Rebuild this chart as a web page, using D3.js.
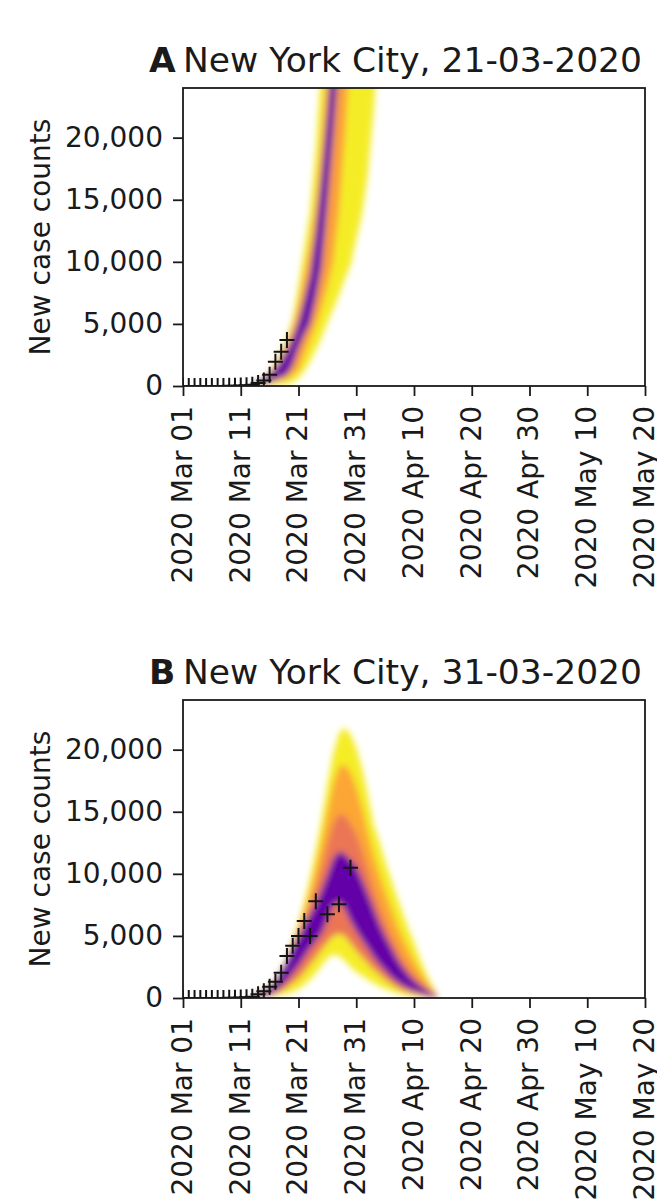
<!DOCTYPE html>
<html>
<head>
<meta charset="utf-8">
<script src="https://cdn.jsdelivr.net/npm/d3@7"></script>
<style>
  body { margin: 0; background: #fff; }
  text { font-family: "DejaVu Sans", sans-serif; fill: #1a1a1a; }
</style>
</head>
<body>
<svg id="chart" width="657" height="1203"></svg>
<script>
// ---- shared axis settings ----
const startDate = "2020-03-01";
const endDate = "2020-05-20";
const xTickDates = ["2020-03-01", "2020-03-11", "2020-03-21", "2020-03-31",
  "2020-04-10", "2020-04-20", "2020-04-30", "2020-05-10", "2020-05-20"];
const yTicks = [0, 5000, 10000, 15000, 20000];
const yMax = 24000;
const yLabel = "New case counts";

// ---- panel A: forecast made on 21-03-2020 ----
const titleA = "New York City, 21-03-2020";
const obsDayA = [0, 1, 2, 3, 4, 5, 6, 7, 8, 9, 10, 11, 12, 13, 14, 15, 16, 17, 18];
const obsA = [0, 0, 1, 1, 2, 3, 5, 8, 14, 20, 35, 55, 95, 250, 450, 900, 1950, 2750, 3700];
// forecast quantile envelopes (days since 1 March); null = beyond the plotted range
const fanDayA = [12, 13, 14, 15, 16, 17, 18, 19, 20, 21, 22, 23, 24, 25, 26, 27, 28, 29, 30, 31, 32, 33, 34];
const outerHiA  = [250, 450, 700, 1200, 1900, 2800, 3900, 5400, 8000, 11000, 14000, 19000, 26000, null, null, null, null, null, null, null, null, null, null];
const orangeHiA = [220, 400, 650, 1100, 1700, 2500, 3500, 4800, 6600, 9000, 11500, 15000, 20000, 26000, null, null, null, null, null, null, null, null, null];
const purpleHiA = [200, 350, 600, 950, 1400, 2050, 2900, 3900, 5200, 7000, 9000, 12500, 17000, 22000, 28000, null, null, null, null, null, null, null, null];
const purpleLoA = [60, 100, 200, 350, 500, 700, 900, 1700, 3000, 4100, 5000, 7000, 9500, 14500, 20000, 26000, null, null, null, null, null, null, null];
const orangeLoA = [40, 70, 130, 220, 330, 450, 550, 900, 1300, 2500, 3700, 4900, 6300, 8000, 10000, 14000, 20000, 27000, null, null, null, null, null];
const outerLoA  = [10, 20, 40, 70, 100, 130, 180, 280, 650, 1200, 2000, 2900, 3900, 5100, 6200, 7300, 8600, 9700, 11800, 13800, 17000, 22000, 28000];

// ---- panel B: forecast made on 31-03-2020 ----
const titleB = "New York City, 31-03-2020";
const obsDayB = [0, 1, 2, 3, 4, 5, 6, 7, 8, 9, 10, 11, 12, 13, 14, 15, 16, 17, 18, 19, 20, 21, 22, 23, 25, 27, 29];
const obsB = [0, 0, 1, 1, 2, 3, 5, 8, 14, 20, 35, 55, 95, 300, 550, 900, 1300, 2040, 3390, 4200, 5000, 6200, 5000, 7800, 6750, 7550, 10500];
const fanDayB = [12, 13, 14, 15, 16, 17, 18, 19, 20, 21, 22, 23, 24, 25, 26, 27, 28, 29, 30, 31, 32, 33, 34, 35, 36, 37, 38, 39, 40, 41, 42, 43, 44];
const outerHiB  = [250, 450, 700, 1000, 1500, 2300, 3400, 4700, 6000, 7700, 9600, 11900, 14300, 17200, 19700, 21300, 21800, 21200, 20200, 18500, 16400, 14000, 12600, 11000, 9600, 8200, 6900, 5600, 4500, 3200, 2100, 1100, 300];
const orangeHiB = [220, 400, 620, 900, 1400, 2200, 3200, 4400, 5600, 7000, 8600, 10500, 12600, 15000, 17200, 18600, 18800, 18200, 17000, 15300, 13400, 11500, 10000, 8600, 7300, 6000, 4900, 3900, 3000, 2200, 1500, 800, 250];
const pinkHiB   = [200, 370, 580, 850, 1350, 2150, 3100, 4250, 5200, 6400, 7500, 8900, 10500, 12300, 14000, 14800, 14700, 14000, 13200, 11800, 10300, 8800, 7400, 6200, 5100, 4100, 3200, 2500, 1900, 1400, 950, 550, 200];
const purpleHiB = [200, 350, 550, 800, 1300, 2100, 3000, 4100, 4900, 5900, 6700, 7600, 8700, 9900, 11200, 11800, 11600, 11100, 10600, 9500, 8400, 7200, 6000, 5000, 4100, 3200, 2500, 1900, 1400, 1000, 700, 400, 150];
const purpleLoB = [80, 120, 180, 300, 550, 900, 1400, 2000, 2600, 3300, 4000, 4600, 5200, 6300, 7500, 7800, 7200, 6200, 5400, 4700, 4000, 3300, 2700, 2200, 1700, 1300, 1000, 750, 550, 380, 250, 120, 30];
const orangeLoB = [50, 80, 120, 200, 350, 550, 850, 1200, 1600, 2100, 2700, 3300, 3900, 4500, 5000, 5200, 5000, 4400, 3800, 3300, 2800, 2300, 1900, 1500, 1150, 850, 600, 450, 320, 220, 140, 70, 20];
const outerLoB  = [20, 30, 60, 120, 200, 280, 350, 500, 750, 1050, 1500, 2000, 2600, 3200, 3500, 3400, 3000, 2500, 2100, 1800, 1500, 1200, 950, 750, 550, 400, 280, 200, 130, 80, 40, 15, 0];

// ---- figure geometry ----
const plotLeft = 183, plotRight = 645, plotHeight = 298;
const panels = [
  { letter: "A", title: titleA, top: 88,
    obsDay: obsDayA, obs: obsA, fanDay: fanDayA,
    bands: [[outerHiA, outerLoA, 0.97], [orangeHiA, orangeLoA, 0.78], [purpleHiA, purpleLoA, 0.18]] },
  { letter: "B", title: titleB, top: 700,
    obsDay: obsDayB, obs: obsB, fanDay: fanDayB,
    bands: [[outerHiB, outerLoB, 0.97], [orangeHiB, orangeLoB, 0.8], [pinkHiB, orangeLoB, 0.66], [purpleHiB, purpleLoB, 0.18]] }
];

const DAY = 864e5;
const parse = d3.utcParse("%Y-%m-%d");
const t0 = parse(startDate);
const dayToDate = d => new Date(t0.getTime() + d * DAY);

const svg = d3.select("#chart");
const defs = svg.append("defs");
defs.append("filter").attr("id", "soft")
  .attr("x", "-10%").attr("y", "-10%").attr("width", "120%").attr("height", "120%")
  .append("feGaussianBlur").attr("stdDeviation", 3.4);

const x = d3.scaleUtc().domain([t0, parse(endDate)]).range([plotLeft, plotRight]);

panels.forEach(p => {
  const bottom = p.top + plotHeight;
  const y = d3.scaleLinear().domain([0, yMax]).range([bottom, p.top]);
  const clipId = "clip" + p.letter;
  defs.append("clipPath").attr("id", clipId)
    .append("rect").attr("x", plotLeft).attr("y", p.top)
    .attr("width", plotRight - plotLeft).attr("height", plotHeight);

  // forecast fan: each band is the polygon between an upper and a lower envelope
  const clipped = svg.append("g").attr("clip-path", `url(#${clipId})`);
  const fan = clipped.append("g").attr("filter", "url(#soft)");
  const line = d3.line().x(d => x(dayToDate(d[0]))).y(d => y(d[1]));
  p.bands.forEach(([hi, lo, tone]) => {
    const upper = p.fanDay.map((d, k) => [d, hi[k]]).filter(d => d[1] != null);
    const lower = p.fanDay.map((d, k) => [d, lo[k]]).filter(d => d[1] != null).reverse();
    fan.append("path")
      .attr("d", line(upper.concat(lower)) + "Z")
      .attr("fill", d3.interpolatePlasma(tone));
  });

  // observed counts
  clipped.append("g").selectAll("path")
    .data(p.obsDay.map((d, k) => [d, p.obs[k]]))
    .join("path")
    .attr("transform", d => `translate(${x(dayToDate(d[0]))},${y(d[1])})`)
    .attr("d", "M-7.5,0H7.5M0,-8V8")
    .attr("stroke", "#141414").attr("stroke-width", 2).attr("fill", "none");

  // axes
  const yAxis = svg.append("g").attr("transform", `translate(${plotLeft},0)`)
    .call(d3.axisLeft(y).tickValues(yTicks).tickFormat(d3.format(",")).tickSize(10).tickPadding(10));
  const xAxis = svg.append("g").attr("transform", `translate(0,${bottom})`)
    .call(d3.axisBottom(x).tickValues(xTickDates.map(parse))
      .tickFormat(d3.utcFormat("%Y %b %d")).tickSize(10).tickPadding(10));
  [yAxis, xAxis].forEach(a => {
    a.select(".domain").remove();
    a.selectAll("line").attr("stroke", "#1a1a1a").attr("stroke-width", 1.8);
    a.selectAll("text").attr("font-size", 28).attr("font-family", "DejaVu Sans").attr("fill", "#1a1a1a");
  });
  xAxis.selectAll("text")
    .attr("transform", "rotate(-90)")
    .attr("text-anchor", "end")
    .attr("x", -20).attr("y", 0).attr("dy", "0.3em");

  // frame
  svg.append("rect").attr("x", plotLeft).attr("y", p.top)
    .attr("width", plotRight - plotLeft).attr("height", plotHeight)
    .attr("fill", "none").attr("stroke", "#1a1a1a").attr("stroke-width", 1.8);

  // labels
  svg.append("text").attr("transform", `translate(50,${p.top + plotHeight / 2}) rotate(-90)`)
    .attr("text-anchor", "middle").attr("font-size", 28).text(yLabel);
  svg.append("text").attr("x", 149).attr("y", p.top - 16)
    .attr("font-size", 34.5).attr("font-weight", "bold").text(p.letter);
  svg.append("text").attr("x", 183).attr("y", p.top - 16)
    .attr("font-size", 34.5).text(p.title);
});
</script>
</body>
</html>
